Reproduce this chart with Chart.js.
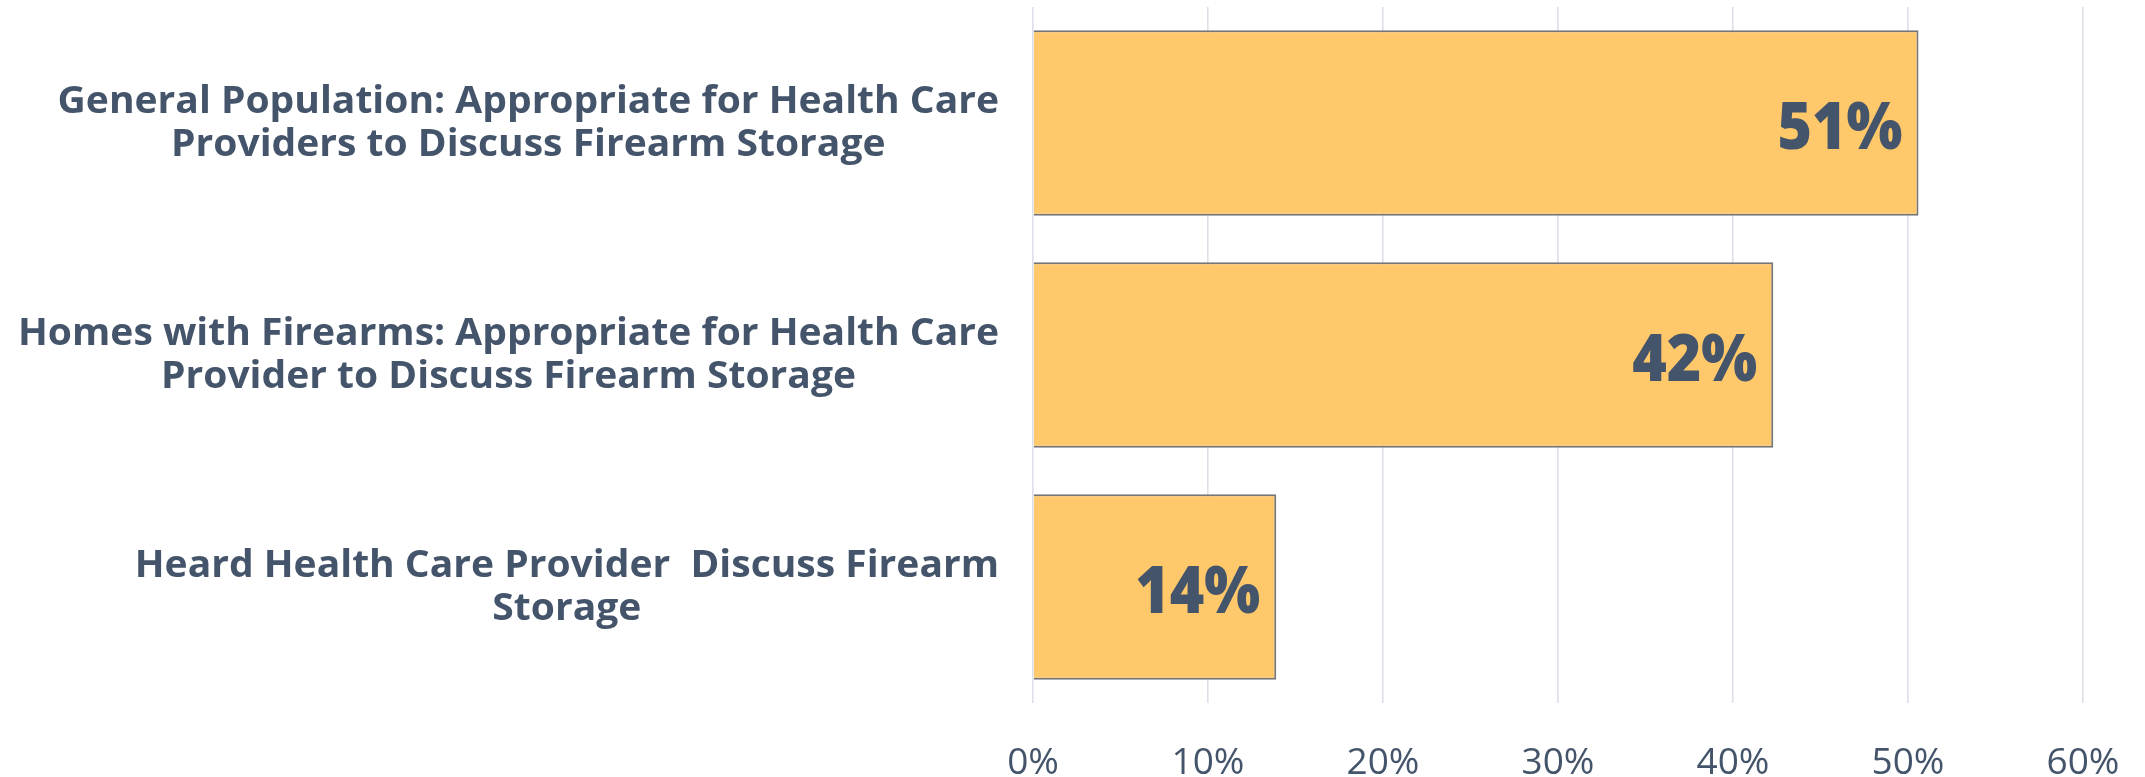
<!DOCTYPE html>
<html>
<head>
<meta charset="utf-8">
<script src="https://cdn.jsdelivr.net/npm/chart.js@4.4.1/dist/chart.umd.min.js"></script>
<style>
  html, body { margin: 0; padding: 0; background: #ffffff; }
  #wrap { width: 2145px; height: 777px; position: relative; }
</style>
</head>
<body>
<div id="wrap"><canvas id="c" width="2145" height="777"></canvas></div>
<script>
// ---- data ----
const categoryLines = [
  ["General Population: Appropriate for Health Care", "Providers to Discuss Firearm Storage"],
  ["Homes with Firearms: Appropriate for Health Care", "Provider to Discuss Firearm Storage"],
  ["Heard Health Care Provider  Discuss Firearm", "Storage"]
];
const values = [50.6, 42.3, 13.9];
const valueLabels = ["51%", "42%", "14%"];
const xTicks = [0, 10, 20, 30, 40, 50, 60];

const TEXT = '#44546A';

const labelPlugin = {
  id: 'customLabels',
  afterDatasetsDraw(chart) {
    const ctx = chart.ctx;
    const yScale = chart.scales.y;
    // category labels
    ctx.save();
    const catSize = 37.4;
    ctx.font = `700 ${catSize}px "Open Sans", sans-serif`;
    const refW = ctx.measureText(categoryLines[1][0]).width;
    const sx = 981 / refW;
    const rightEdge = 999;
    const lh = 43;
    ctx.fillStyle = TEXT;
    ctx.textBaseline = 'alphabetic';
    ctx.textAlign = 'center';
    categoryLines.forEach((lines, i) => {
      const cy = yScale.getPixelForValue(i);
      const widths = lines.map(l => ctx.measureText(l).width * sx);
      const maxW = Math.max(...widths);
      const cx = rightEdge - maxW / 2;
      const firstBase = cy - (lines.length - 1) * lh / 2 + 11.5;
      lines.forEach((l, j) => {
        ctx.save();
        ctx.translate(cx, firstBase + j * lh);
        ctx.scale(sx, 1);
        ctx.fillText(l, 0, 0);
        ctx.restore();
      });
    });
    ctx.restore();

    // value labels
    ctx.save();
    ctx.font = `800 66px "Open Sans", sans-serif`;
    const vsx = 125 / ctx.measureText("14%").width;
    ctx.fillStyle = TEXT;
    ctx.textAlign = 'right';
    ctx.textBaseline = 'alphabetic';
    const meta = chart.getDatasetMeta(0);
    meta.data.forEach((bar, i) => {
      ctx.save();
      ctx.translate(bar.x - 16, bar.y + 25.5);
      ctx.scale(vsx, 1);
      ctx.fillText(valueLabels[i], 0, 0);
      ctx.restore();
    });
    ctx.restore();
  }
};

new Chart(document.getElementById('c'), {
  type: 'bar',
  data: {
    labels: categoryLines.map(l => l.join(' ')),
    datasets: [{
      data: values,
      backgroundColor: '#FFC86A',
      borderColor: '#767676',
      borderWidth: 2,
      borderSkipped: 'start',
      barPercentage: 0.8,
      categoryPercentage: 1.0
    }]
  },
  options: {
    indexAxis: 'y',
    responsive: false,
    animation: false,
    devicePixelRatio: 1,
    layout: { padding: { top: 7, right: 62, bottom: 0, left: 0 } },
    plugins: {
      legend: { display: false },
      tooltip: { enabled: false }
    },
    scales: {
      x: {
        min: xTicks[0],
        max: xTicks[xTicks.length - 1],
        afterBuildTicks: (s) => { s.ticks = xTicks.map(v => ({ value: v })); },
        afterFit: (s) => { s.height = 74; s.paddingRight = 0; s.paddingLeft = 0; },
        border: { display: false },
        grid: { color: '#DCE0E8', lineWidth: 1.6, drawTicks: false },
        ticks: {
          padding: 38,
          color: TEXT,
          font: { family: '"Open Sans", sans-serif', size: 37 },
          callback: (v) => v + '%'
        }
      },
      y: {
        afterFit: (s) => { s.width = 1033; },
        border: { display: false },
        grid: { display: false },
        ticks: { display: false }
      }
    }
  },
  plugins: [labelPlugin]
});
</script>
</body>
</html>
